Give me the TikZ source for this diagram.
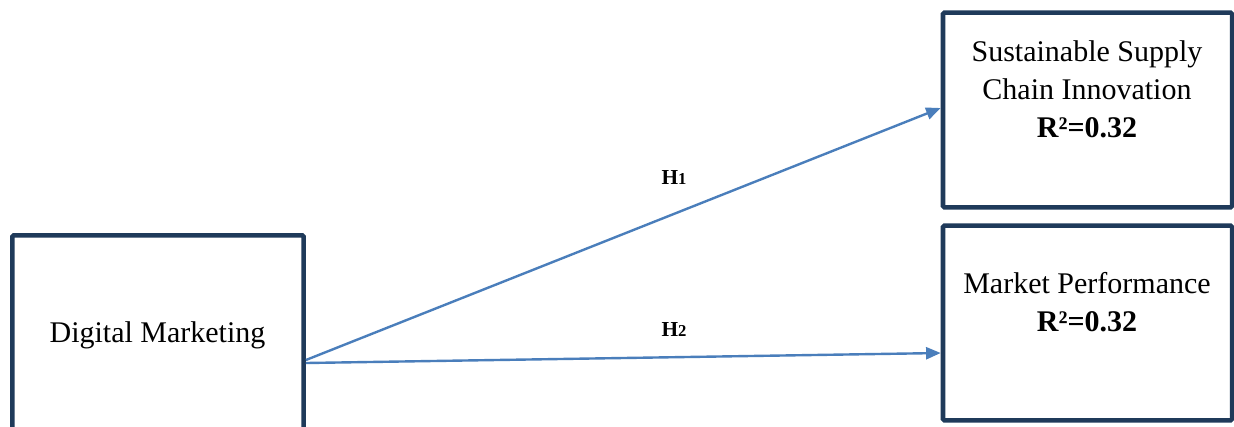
\documentclass[tikz,border=0pt]{standalone}
\usepackage{fontspec}
\setmainfont{Liberation Serif}
\usetikzlibrary{arrows.meta,positioning,calc}

\definecolor{boxnavy}{HTML}{1F3A5A}
\definecolor{pathblue}{HTML}{4A7EBB}

\begin{document}
\begin{tikzpicture}[
  x=0.75pt, y=-0.75pt,
  box/.style={draw=boxnavy, line width=3.4pt, fill=white, inner sep=0pt, rounded corners=1pt},
  txt/.style={align=center, inner sep=0pt, font=\fontsize{22.5}{28.5}\selectfont},
  hyp/.style={font=\fontsize{16}{16}\selectfont\bfseries, inner sep=0pt},
  arrow/.style={-{Triangle[length=11pt, width=9pt]}, line width=1.8pt, draw=pathblue}
]
\useasboundingbox (0,0) rectangle (1234,426);

% constructs
\node[box, minimum width=218.5pt, minimum height=187pt] (dm) at (158, 360) {};
\node[box, minimum width=216.75pt, minimum height=146pt] (ssci) at (1087.5, 110) {};
\node[box, minimum width=216.75pt, minimum height=146pt] (mp) at (1087.5, 323) {};

\node[txt] (dmtext) at (157.5, 335) {Digital Marketing};
\node[txt] (sscitext) at (1087, 89) {Sustainable Supply\\Chain Innovation\\\textbf{R²=0.32}};
\node[txt] (mptext) at (1087, 302) {Market Performance\\\textbf{R²=0.32}};

% paths
\draw[arrow] (dm.east) -- ($(ssci.west)+(0,-2)$);
\draw[arrow] ($(dm.east)+(0,3)$) -- ($(mp.west)+(0,30)$);

\node[hyp] (h1) at (674, 178) {H{\fontsize{12.5}{12.5}\selectfont 1}};
\node[hyp] (h2) at (674, 330) {H{\fontsize{12.5}{12.5}\selectfont 2}};

\end{tikzpicture}
\end{document}
